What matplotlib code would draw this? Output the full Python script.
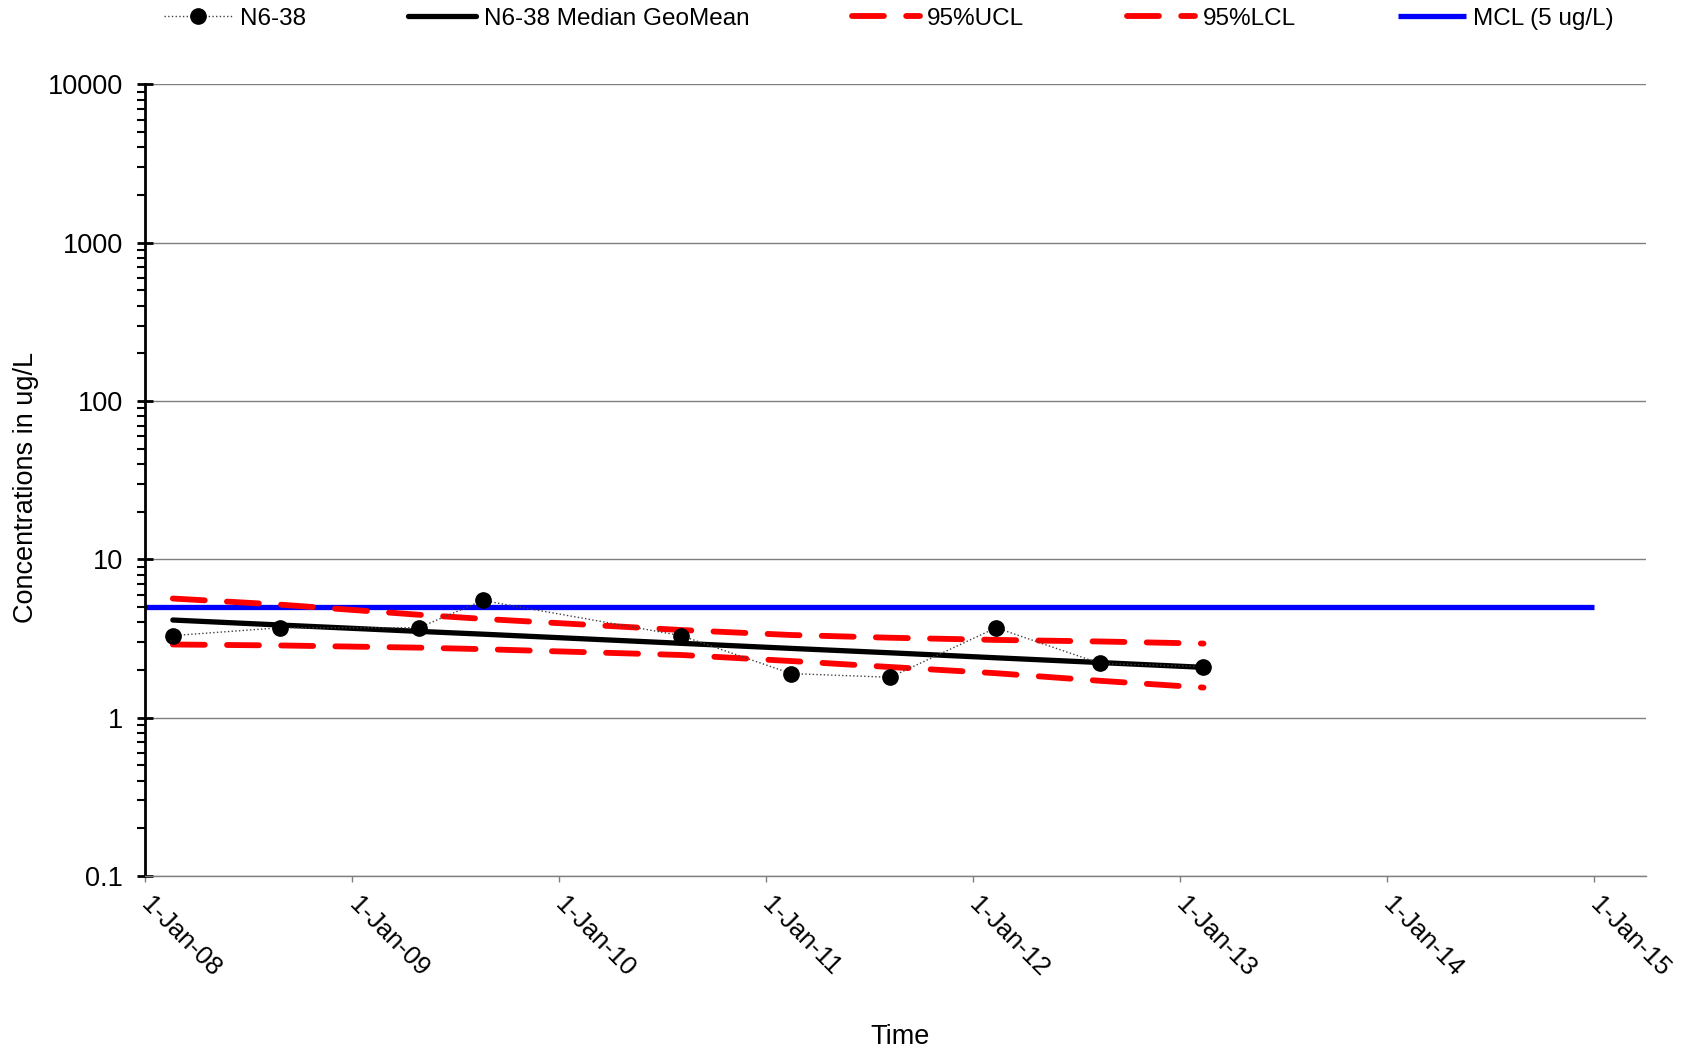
import pandas as pd
import matplotlib.pyplot as plt
import matplotlib.dates as mdates
from matplotlib.ticker import LogLocator, NullFormatter, FixedLocator, FixedFormatter

plt.rcParams['font.family'] = ['Liberation Sans', 'DejaVu Sans']
plt.rcParams['lines.scale_dashes'] = False

# Sample dates and concentrations for well N6-38 (ug/L)
sample_dates = pd.to_datetime([
    '2008-02-19', '2008-08-26', '2009-04-28', '2009-08-19', '2010-08-04',
    '2011-02-14', '2011-08-08', '2012-02-11', '2012-08-13', '2013-02-11',
])
conc = [3.3, 3.7, 3.7, 5.5, 3.3, 1.9, 1.8, 3.7, 2.2, 2.1]

# Trend line (median geomean) and its 95% confidence limits at each sample date
median_geomean = [4.14, 3.85, 3.51, 3.37, 2.95, 2.74, 2.57, 2.39, 2.23, 2.08]
ucl95 = [5.66, 5.18, 4.47, 4.21, 3.58, 3.33, 3.20, 3.10, 3.03, 2.94]
lcl95 = [2.90, 2.86, 2.77, 2.71, 2.49, 2.28, 2.09, 1.91, 1.71, 1.55]

# MCL reference line
mcl_dates = pd.to_datetime(['2008-01-01', '2015-01-01'])
mcl_value = [5, 5]

year_ticks = pd.to_datetime([f'{y}-01-01' for y in range(2008, 2016)])
y_ticks = [0.1, 1, 10, 100, 1000, 10000]
y_labels = ['0.1', '1', '10', '100', '1000', '10000']

fig = plt.figure(figsize=(16.87, 10.52), dpi=100)
ax = fig.add_axes([0.0860, 0.1673, 0.8897, 0.7524])

ax.plot(sample_dates, conc, linestyle=':', color='#404040', linewidth=1,
        marker='o', markersize=11, markerfacecolor='black', markeredgecolor='black',
        label='N6-38', zorder=5)
ax.plot(sample_dates, median_geomean, color='black', linewidth=3.8,
        solid_capstyle='round', label='N6-38 Median GeoMean', zorder=4)
ax.plot(sample_dates, ucl95, color='red', linewidth=4.2, dashes=(23, 16),
        dash_capstyle='round', label='95%UCL', zorder=3)
ax.plot(sample_dates, lcl95, color='red', linewidth=4.2, dashes=(23, 16),
        dash_capstyle='round', label='95%LCL', zorder=3)
ax.plot(mcl_dates, mcl_value, color='blue', linewidth=3.8,
        solid_capstyle='butt', label='MCL (5 ug/L)', zorder=2)

# log y axis
ax.set_yscale('log')
ax.set_ylim(0.1, 10000)
ax.yaxis.set_major_locator(FixedLocator(y_ticks))
ax.yaxis.set_major_formatter(FixedFormatter(y_labels))
ax.yaxis.set_minor_locator(LogLocator(base=10, subs=range(2, 10)))
ax.yaxis.set_minor_formatter(NullFormatter())
ax.tick_params(axis='y', which='major', direction='inout', length=11.5, width=2,
               labelsize=19.5, pad=10, color='black')
ax.tick_params(axis='y', which='minor', direction='out', length=5.8, width=1.5,
               color='black')
ax.grid(axis='y', which='major', color='#7f7f7f', linewidth=1)

# date x axis
ax.set_xlim(pd.Timestamp('2008-01-01'), pd.Timestamp('2015-04-03'))
ax.set_xticks(year_ticks)
ax.xaxis.set_major_formatter(mdates.DateFormatter('%-d-%b-%y'))
ax.tick_params(axis='x', which='major', direction='out', length=4.3, width=1,
               color='#7f7f7f', labelsize=18.5, pad=14)
ax.tick_params(axis='x', which='minor', bottom=False)
for lbl in ax.get_xticklabels():
    lbl.set_rotation(-45)
    lbl.set_ha('left')
    lbl.set_va('center')
    lbl.set_rotation_mode('anchor')

ax.spines['top'].set_visible(False)
ax.spines['right'].set_visible(False)
ax.spines['left'].set_linewidth(2)
ax.spines['left'].set_color('black')
ax.spines['bottom'].set_linewidth(1)
ax.spines['bottom'].set_color('#7f7f7f')
ax.set_axisbelow(True)

fig.text(26 / 1687, 0.537, 'Concentrations in ug/L', rotation=90,
         ha='center', va='center', fontsize=19.5)
fig.text(900 / 1687, 0.0145, 'Time', ha='center', va='center', fontsize=19.5)

fig.legend(loc='center', bbox_to_anchor=(0.527, 0.982), ncol=5, frameon=False,
           fontsize=17.5, handlelength=2.8, handletextpad=0.32,
           columnspacing=4.2, borderpad=0)

fig.savefig('out.png', dpi=100)
